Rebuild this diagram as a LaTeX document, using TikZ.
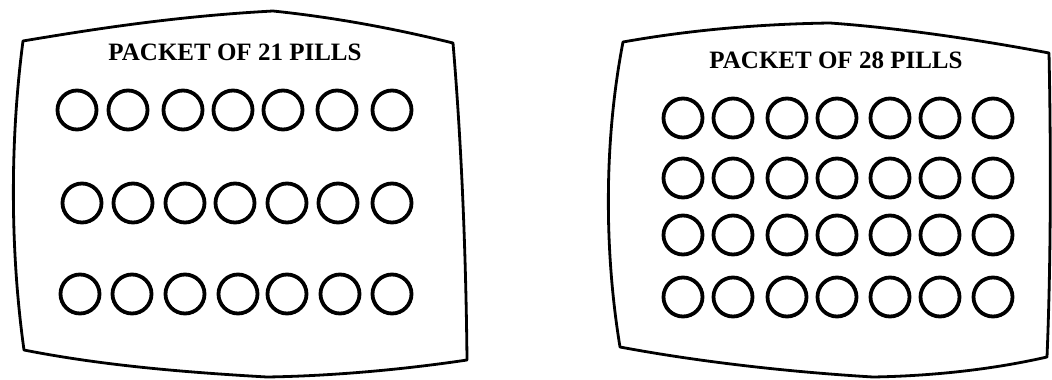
\documentclass[tikz,border=0pt]{standalone}
\usepackage{fontspec}
\setmainfont{Liberation Serif}
\begin{document}
\begin{tikzpicture}[x=1pt,y=-1pt,
  packet/.style={line width=2.8pt,line join=round},
  pill/.style={line width=3.8pt},
  title/.style={font=\bfseries\fontsize{25}{28}\selectfont,inner sep=0pt}]
\useasboundingbox (0,0) rectangle (1052,380);
% left packet
\draw[packet] (23,41) .. controls (100,28) and (180,16) .. (273,11)
  .. controls (340,18) and (400,30) .. (453,43)
  .. controls (462,150) and (466,260) .. (467,360)
  .. controls (400,370) and (330,376) .. (267,377)
  .. controls (180,372) and (100,365) .. (24,350)
  .. controls (10,250) and (10,140) .. (23,41) -- cycle;
\node[title] (t1) at (235,52) {PACKET OF 21 PILLS};
\foreach \x in {77,128,183,233,283,337,392} \draw[pill] (\x,110) circle (19.5);
\foreach \x in {82,133,185,235,287,338,392} \draw[pill] (\x,203) circle (19.5);
\foreach \x in {80,132,185,238,287,340,392} \draw[pill] (\x,294) circle (19.5);
% right packet
\draw[packet] (623,42) .. controls (690,30) and (760,24) .. (830,23)
  .. controls (900,28) and (980,40) .. (1049,53)
  .. controls (1051,150) and (1051,260) .. (1047,357)
  .. controls (990,370) and (930,376) .. (873,377)
  .. controls (790,372) and (700,362) .. (620,347)
  .. controls (604,250) and (604,140) .. (623,42) -- cycle;
\node[title] (t2) at (836,60) {PACKET OF 28 PILLS};
\foreach \y in {118,178,235,297}
  \foreach \x in {683,733,787,837,890,940,993} \draw[pill] (\x,\y) circle (19.5);
\end{tikzpicture}
\end{document}
